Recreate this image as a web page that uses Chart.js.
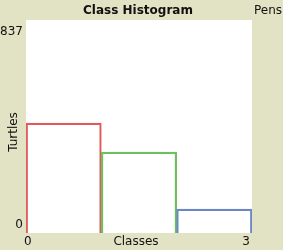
<!DOCTYPE html>
<html>
<head>
<meta charset="utf-8">
<script src="https://cdn.jsdelivr.net/npm/chart.js@4/dist/chart.umd.min.js"></script>
<style>
    html, body { margin: 0; padding: 0; background: #e2e2c4; }
    #wrap { position: relative; width: 283px; height: 250px; }
</style>
</head>
<body>
<div id="wrap"><canvas id="histChart"></canvas></div>
<script>
// histogram data
const classes = ['0', '1', '2'];
const turtleCounts = [432, 318, 94];
const yTickLabels = ['0', '837'];
const xTickLabels = ['0', '3'];
const yMax = 837;
const penColors = ['#e05a5a', '#6cc05e', '#6a86c6'];

const plotTitle = 'Class Histogram';
const xTitle = 'Classes';
const yTitle = 'Turtles';
const pensLabel = 'Pens';

// paints the white plot area and the NetLogo style labels
const plotFrame = {
    id: 'plotFrame',
    beforeDatasetsDraw(chart) {
        const { ctx, chartArea } = chart;
        ctx.save();
        ctx.fillStyle = '#ffffff';
        ctx.fillRect(chartArea.left, chartArea.top, chartArea.right - chartArea.left, chartArea.bottom - chartArea.top);
        ctx.restore();
    },
    afterDraw(chart) {
        const { ctx, chartArea } = chart;
        const y = chart.scales.y;
        ctx.save();
        ctx.fillStyle = '#111';
        ctx.textBaseline = 'middle';

        ctx.font = 'bold 12px "DejaVu Sans"';
        ctx.textAlign = 'center';
        ctx.fillText(plotTitle, 138, 11);

        ctx.font = '12px "DejaVu Sans"';
        ctx.textAlign = 'left';
        ctx.fillText(pensLabel, 254, 11);

        // y ticks, inside the ends of the axis
        ctx.textAlign = 'right';
        ctx.fillText(yTickLabels[1], chartArea.left - 3, y.getPixelForValue(yMax) + 12);
        ctx.fillText(yTickLabels[0], chartArea.left - 3, y.getPixelForValue(0) - 8);

        // x ticks and title on one row
        const rowY = chartArea.bottom + 9;
        ctx.textAlign = 'left';
        ctx.fillText(xTickLabels[0], chartArea.left - 2, rowY);
        ctx.textAlign = 'right';
        ctx.fillText(xTickLabels[1], chartArea.right - 2, rowY);
        ctx.textAlign = 'center';
        ctx.fillText(xTitle, (chartArea.left + chartArea.right) / 2 - 3, rowY);

        ctx.translate(14, 132);
        ctx.rotate(-Math.PI / 2);
        ctx.fillText(yTitle, 0, 0);
        ctx.restore();
    }
};

new Chart(document.getElementById('histChart'), {
    type: 'bar',
    data: {
        labels: classes,
        datasets: [{
            data: turtleCounts,
            backgroundColor: 'rgba(0,0,0,0)',
            borderColor: penColors,
            borderWidth: 1.5,
            borderSkipped: 'bottom',
            barPercentage: 1,
            categoryPercentage: 1
        }]
    },
    options: {
        responsive: true,
        maintainAspectRatio: false,
        animation: false,
        layout: { padding: { left: 26, right: 31, top: 20, bottom: 17 } },
        plugins: { legend: { display: false }, tooltip: { enabled: false } },
        scales: {
            x: { display: false },
            y: { display: false, min: 0, max: yMax }
        }
    },
    plugins: [plotFrame]
});
</script>
</body>
</html>
